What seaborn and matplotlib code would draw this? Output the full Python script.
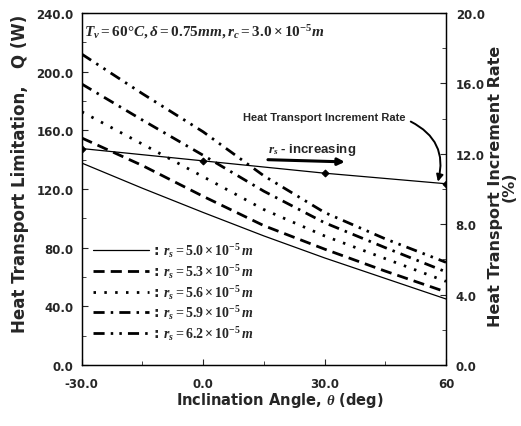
import numpy as np
import pandas as pd
import matplotlib
matplotlib.use('Agg')
import matplotlib.pyplot as plt
from matplotlib.ticker import MultipleLocator
import seaborn as sns

# values
angle = [-30, -15, 0, 15, 30, 45, 60]
q_50 = [137.7, 120.5, 104, 88, 73, 59, 45]
q_53 = [154.8, 136, 115, 95, 79, 64, 49.8]
q_56 = [172.7, 150.6, 128.4, 106, 88, 72.5, 57]
q_59 = [191.6, 167, 143, 118.5, 97, 80, 63.5]
q_62 = [212, 185, 159, 129, 104, 86, 70]

rate_angle = [-30, 0, 30, 60]
rate = [12.3, 11.6, 10.9, 10.3]

radius_labels = ['5.0', '5.3', '5.6', '5.9', '6.2']
x_tick_vals = [-30, 0, 30, 60]
x_tick_text = ['-30.0', '0.0', '30.0', '60']
y_tick_vals = [0, 40, 80, 120, 160, 200, 240]
y2_tick_vals = [0, 4, 8, 12, 16, 20]

sns.set_style('ticks')
plt.rcParams['font.family'] = ['DejaVu Sans']
plt.rcParams['font.weight'] = 'bold'
plt.rcParams['mathtext.fontset'] = 'custom'
plt.rcParams['mathtext.rm'] = 'Liberation Serif:bold'
plt.rcParams['mathtext.it'] = 'Liberation Serif:italic:bold'
plt.rcParams['mathtext.bf'] = 'Liberation Serif:bold'

fig = plt.figure(figsize=(5.21, 4.27), dpi=100)
ax = fig.add_axes([0.157, 0.143, 0.699, 0.824])

series = [q_50, q_53, q_56, q_59, q_62]
styles = [
    dict(linestyle='-', linewidth=0.9),
    dict(linestyle=(0, (4, 2.2)), linewidth=2.0),
    dict(linestyle=(0, (0.9, 3)), linewidth=2.0),
    dict(linestyle=(0, (4, 2.2, 0.9, 2.2)), linewidth=2.0),
    dict(linestyle=(0, (4, 2.2, 0.9, 2.2, 0.9, 2.2)), linewidth=2.0),
]
for vals, lab, st in zip(series, radius_labels, styles):
    sns.lineplot(x=angle, y=vals, ax=ax, color='black',
                 label=r': $r_s = %s \times 10^{-5}\,m$' % lab, **st)

ax.set_xlim(-30, 60)
ax.set_ylim(0, 240)
ax.set_xticks(x_tick_vals)
ax.set_xticklabels(x_tick_text)
ax.xaxis.set_minor_locator(MultipleLocator(15))
ax.set_yticks(y_tick_vals)
ax.set_yticklabels(['%.1f' % v for v in y_tick_vals])
ax.yaxis.set_minor_locator(MultipleLocator(20))
ax.tick_params(which='both', direction='in', labelsize=8.5)
ax.tick_params(axis='x', pad=9)
ax.tick_params(axis='y', pad=6)
ax.tick_params(which='major', length=4)
ax.tick_params(which='minor', length=3)
for lbl in ax.get_xticklabels() + ax.get_yticklabels():
    lbl.set_fontweight('bold')

ax.set_xlabel(r'Inclination Angle, $\theta$ (deg)', fontsize=10.5, fontweight='bold', labelpad=0)
ax.xaxis.label.set_x(0.545)
ax.set_ylabel('Heat Transport Limitation,   Q (W)', fontsize=12, fontweight='bold', labelpad=5)
ax.yaxis.label.set_y(0.545)

ax2 = ax.twinx()
sns.lineplot(x=rate_angle, y=rate, ax=ax2, color='black', linewidth=0.9,
             marker='D', markersize=3.5, markeredgecolor='black')
ax2.set_ylim(0, 20)
ax2.set_yticks(y2_tick_vals)
ax2.set_yticklabels(['%.1f' % v for v in y2_tick_vals])
ax2.yaxis.set_minor_locator(MultipleLocator(2))
ax2.tick_params(which='both', direction='in', labelsize=8.5, pad=7)
ax2.tick_params(which='major', length=4)
ax2.tick_params(which='minor', length=3)
for lbl in ax2.get_yticklabels():
    lbl.set_fontweight('bold')
ax2.set_ylabel('Heat Transport Increment Rate\n(%)', fontsize=11.5, fontweight='bold',
               labelpad=2, linespacing=0.95)
ax2.yaxis.label.set_y(0.51)

for a in (ax, ax2):
    for sp in a.spines.values():
        sp.set_linewidth(0.9)
        sp.set_color('black')

leg = ax.legend(loc='upper left', bbox_to_anchor=(0.005, 0.38), frameon=False,
                fontsize=10, handlelength=4.0, handletextpad=0.3,
                labelspacing=0.2, borderaxespad=0.3)

ax.text(-29.5, 228, r'$T_v = 60\degree C, \delta = 0.75mm, r_c = 3.0\times10^{-5}m$',
        fontsize=11, va='center', ha='left')

ax.text(30, 169, 'Heat Transport Increment Rate', fontsize=8, fontweight='bold',
        family='Liberation Sans', ha='center', va='center')
ax.annotate('', xy=(58, 125), xytext=(51.3, 166),
            arrowprops=dict(arrowstyle='-|>', color='black', lw=1.4,
                            connectionstyle='arc3,rad=-0.4',
                            shrinkA=0, shrinkB=0))

ax.text(16, 147, r'$r_s$ - increasing', fontsize=9.5, fontweight='bold',
        family='Liberation Sans', ha='left', va='center')
ax.annotate('', xy=(35, 138.5), xytext=(16, 140),
            arrowprops=dict(arrowstyle='-|>', color='black', lw=2.2, shrinkA=0, shrinkB=0))

fig.savefig('out.png', dpi=100)
